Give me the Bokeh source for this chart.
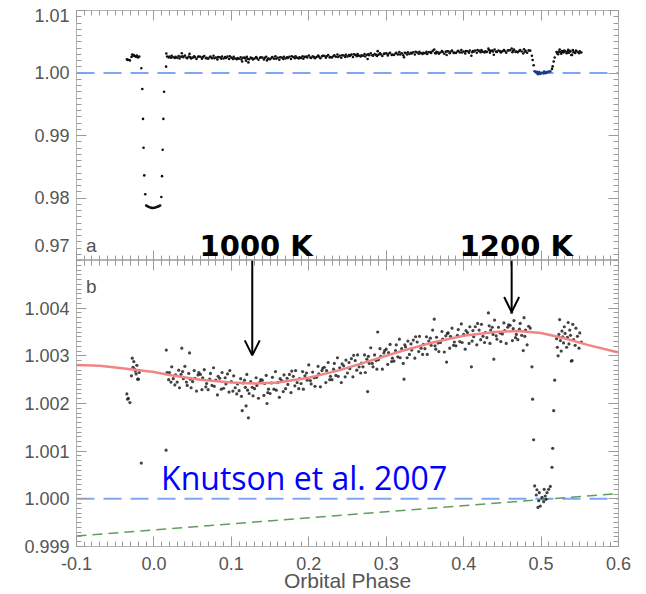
from bokeh.plotting import figure
from bokeh.layouts import column
from bokeh.models import (Range1d, LinearAxis, FixedTicker, PrintfTickFormatter,
                          Arrow, OpenHead, Span, Label)
from bokeh.embed import file_html
from bokeh.resources import INLINE

# ---------------- data ----------------
pre_phase = [-0.035, -0.034, -0.033, -0.031, -0.029, -0.028, -0.027, -0.026, -0.025,
             -0.024, -0.023, -0.022, -0.021, -0.020, -0.019]
pre_flux = [1.00220, 1.00209, 1.00211, 1.00202, 1.00258, 1.00295, 1.00276, 1.00288, 1.00272,
            1.00268, 1.00262, 1.00280, 1.00251, 1.00251, 1.00265]

transit_phase = [-0.0163, -0.0150, -0.0141, -0.0134, -0.0125, -0.0112, -0.0100, -0.0085,
                 -0.0070, -0.0055, -0.0040, -0.0025, -0.0010, 0.0005, 0.0020, 0.0035,
                 0.0050, 0.0065, 0.0080, 0.0096, 0.0105, 0.0113, 0.0122, 0.0131, 0.0157]
transit_flux = [1.00075, 0.99745, 0.99266, 0.98804, 0.98362, 0.98059, 0.97880, 0.97870,
                0.97860, 0.97852, 0.97845, 0.97842, 0.97840, 0.97843, 0.97848, 0.97855,
                0.97862, 0.97870, 0.97880, 0.98016, 0.98350, 0.98772, 0.99266, 0.99700, 1.00102]

main_phase = [
    0.016, 0.017, 0.019,
    0.020, 0.022, 0.023, 0.025, 0.027, 0.028,
    0.030, 0.032, 0.033, 0.035, 0.036, 0.037, 0.038,
    0.040, 0.042, 0.043, 0.045, 0.046, 0.047, 0.048,
    0.050, 0.052, 0.053, 0.055, 0.057, 0.058,
    0.060, 0.062, 0.063, 0.065, 0.067, 0.068,
    0.070, 0.072, 0.073, 0.075, 0.077, 0.078,
    0.080, 0.082, 0.083, 0.085, 0.087, 0.088,
    0.090, 0.092, 0.093, 0.095, 0.097, 0.098,
    0.100, 0.102, 0.103, 0.105, 0.107, 0.108,
    0.110, 0.112, 0.113, 0.114, 0.115, 0.117, 0.118, 0.119,
    0.120, 0.121, 0.122, 0.123, 0.125, 0.127, 0.128,
    0.130, 0.132, 0.133, 0.135, 0.137, 0.138,
    0.140, 0.142, 0.143, 0.145, 0.146, 0.147, 0.148,
    0.150, 0.152, 0.153, 0.155, 0.157, 0.158,
    0.160, 0.162, 0.163, 0.165, 0.167, 0.168,
    0.170, 0.172, 0.173, 0.175, 0.177, 0.178,
    0.180, 0.182, 0.183, 0.185, 0.187, 0.188,
    0.190, 0.192, 0.193, 0.195, 0.197, 0.198,
    0.200, 0.202, 0.203, 0.205, 0.207, 0.208,
    0.210, 0.212, 0.213, 0.215, 0.217, 0.218,
    0.220, 0.222, 0.223, 0.225, 0.227, 0.228,
    0.230, 0.232, 0.233, 0.235, 0.237, 0.238,
    0.240, 0.242, 0.243, 0.245, 0.247, 0.248,
    0.250, 0.252, 0.253, 0.255, 0.257, 0.258,
    0.260, 0.262, 0.263, 0.265, 0.267, 0.268,
    0.270, 0.272, 0.273, 0.275, 0.276, 0.277, 0.278,
    0.280, 0.282, 0.283, 0.285, 0.287, 0.288, 0.289,
    0.290, 0.292, 0.293, 0.295, 0.297, 0.298,
    0.300, 0.302, 0.303, 0.305, 0.307, 0.308,
    0.310, 0.312, 0.313, 0.315, 0.317, 0.318,
    0.320, 0.322, 0.323, 0.324, 0.325, 0.327, 0.328,
    0.330, 0.332, 0.333, 0.335, 0.337, 0.338,
    0.340, 0.342, 0.343, 0.345, 0.347, 0.348,
    0.350, 0.352, 0.353, 0.355, 0.357, 0.358,
    0.360, 0.362, 0.363, 0.364, 0.365, 0.367, 0.368,
    0.370, 0.372, 0.373, 0.375, 0.377, 0.378, 0.379,
    0.380, 0.382, 0.383, 0.385, 0.387, 0.388,
    0.390, 0.392, 0.393, 0.395, 0.397, 0.398,
    0.400, 0.402, 0.403, 0.405, 0.407, 0.408,
    0.410, 0.411, 0.412, 0.413, 0.415, 0.417, 0.418,
    0.420, 0.422, 0.423, 0.425, 0.427, 0.428,
    0.430, 0.432, 0.433, 0.434, 0.435, 0.437, 0.438, 0.439,
    0.440, 0.442, 0.443, 0.445, 0.447, 0.448,
    0.450, 0.452, 0.453, 0.455, 0.457, 0.458,
    0.460, 0.462, 0.463, 0.464, 0.465, 0.467, 0.468,
    0.470, 0.472, 0.473, 0.475, 0.477, 0.478, 0.479,
    0.480, 0.482, 0.484, 0.486,
]
main_flux = [
    1.00312, 1.00265, 1.00250,
    1.00265, 1.00245, 1.00277, 1.00252, 1.00239, 1.00260,
    1.00245, 1.00270, 1.00233, 1.00261, 1.00316, 1.00267, 1.00252,
    1.00278, 1.00245, 1.00238, 1.00263, 1.00306, 1.00251, 1.00233,
    1.00246, 1.00269, 1.00253, 1.00226, 1.00260, 1.00265,
    1.00261, 1.00229, 1.00254, 1.00271, 1.00235, 1.00242,
    1.00229, 1.00251, 1.00263, 1.00238, 1.00275, 1.00236,
    1.00249, 1.00218, 1.00257, 1.00253, 1.00230, 1.00265,
    1.00232, 1.00254, 1.00241, 1.00262, 1.00224, 1.00269,
    1.00246, 1.00226, 1.00258, 1.00233, 1.00220, 1.00241,
    1.00227, 1.00252, 1.00215, 1.00185, 1.00243, 1.00249, 1.00234, 1.00195,
    1.00261, 1.00228, 1.00170, 1.00221, 1.00246, 1.00234, 1.00216,
    1.00231, 1.00254, 1.00238, 1.00211, 1.00245, 1.00250,
    1.00249, 1.00217, 1.00242, 1.00259, 1.00200, 1.00223, 1.00230,
    1.00221, 1.00243, 1.00255, 1.00230, 1.00267, 1.00228,
    1.00244, 1.00213, 1.00252, 1.00248, 1.00225, 1.00260,
    1.00231, 1.00253, 1.00240, 1.00261, 1.00223, 1.00268,
    1.00257, 1.00237, 1.00269, 1.00244, 1.00231, 1.00252,
    1.00242, 1.00267, 1.00230, 1.00258, 1.00264, 1.00249,
    1.00281, 1.00248, 1.00241, 1.00266, 1.00254, 1.00236,
    1.00255, 1.00278, 1.00262, 1.00235, 1.00269, 1.00274,
    1.00276, 1.00244, 1.00269, 1.00286, 1.00250, 1.00257,
    1.00250, 1.00272, 1.00284, 1.00259, 1.00296, 1.00257,
    1.00275, 1.00244, 1.00283, 1.00279, 1.00256, 1.00291,
    1.00264, 1.00286, 1.00273, 1.00294, 1.00256, 1.00301,
    1.00290, 1.00270, 1.00302, 1.00277, 1.00264, 1.00285,
    1.00277, 1.00302, 1.00265, 1.00293, 1.00225, 1.00299, 1.00284,
    1.00317, 1.00284, 1.00277, 1.00302, 1.00290, 1.00272, 1.00350,
    1.00292, 1.00315, 1.00299, 1.00272, 1.00306, 1.00311,
    1.00314, 1.00282, 1.00307, 1.00324, 1.00288, 1.00295,
    1.00289, 1.00311, 1.00323, 1.00298, 1.00335, 1.00296,
    1.00315, 1.00284, 1.00251, 1.00323, 1.00319, 1.00296, 1.00331,
    1.00303, 1.00325, 1.00312, 1.00333, 1.00295, 1.00340,
    1.00329, 1.00309, 1.00341, 1.00316, 1.00303, 1.00324,
    1.00315, 1.00340, 1.00303, 1.00331, 1.00337, 1.00322,
    1.00354, 1.00377, 1.00321, 1.00314, 1.00339, 1.00327, 1.00309,
    1.00328, 1.00351, 1.00335, 1.00308, 1.00342, 1.00287, 1.00347,
    1.00348, 1.00316, 1.00341, 1.00358, 1.00322, 1.00329,
    1.00321, 1.00343, 1.00355, 1.00330, 1.00367, 1.00328,
    1.00345, 1.00314, 1.00353, 1.00349, 1.00326, 1.00361,
    1.00277, 1.00331, 1.00353, 1.00340, 1.00361, 1.00323, 1.00368,
    1.00354, 1.00334, 1.00366, 1.00341, 1.00328, 1.00349,
    1.00338, 1.00390, 1.00363, 1.00326, 1.00354, 1.00360, 1.00345, 1.00293,
    1.00375, 1.00342, 1.00335, 1.00360, 1.00348, 1.00330,
    1.00346, 1.00369, 1.00353, 1.00326, 1.00360, 1.00365,
    1.00364, 1.00391, 1.00332, 1.00357, 1.00374, 1.00338, 1.00345,
    1.00334, 1.00356, 1.00368, 1.00343, 1.00311, 1.00380, 1.00341,
    1.00354, 1.00323, 1.00362, 1.00358,
]

ecl_edge_phase = [0.4882, 0.4891, 0.4904, 0.5141, 0.5150, 0.5163, 0.5176]
ecl_edge_flux = [1.00277, 1.00209, 1.00124, 1.00066, 1.00106, 1.00185, 1.00249]

ecl_bot_phase = [0.4917, 0.4938, 0.4947, 0.4960, 0.4969, 0.4977, 0.4990, 0.5012,
                 0.5034, 0.5040, 0.5054, 0.5064, 0.5077, 0.5098, 0.5119]
ecl_bot_flux = [1.00027, 1.00008, 1.00019, 0.99982, 0.99996, 1.00013, 0.99985, 1.00003,
                0.99994, 1.00020, 1.00006, 0.99999, 1.00013, 1.00020, 1.00026]

post_phase = [0.520, 0.521, 0.522, 0.523, 0.524, 0.525, 0.526, 0.527, 0.528, 0.529,
              0.530, 0.531, 0.533, 0.534, 0.535, 0.536, 0.537, 0.538, 0.539, 0.540,
              0.541, 0.542, 0.544, 0.545, 0.547, 0.549, 0.550, 0.552]
post_flux = [1.00336, 1.00318, 1.00300, 1.00345, 1.00376, 1.00332, 1.00310, 1.00352, 1.00340, 1.00327,
             1.00361, 1.00347, 1.00318, 1.00339, 1.00370, 1.00325, 1.00354, 1.00343, 1.00289, 1.00290,
             1.00366, 1.00334, 1.00322, 1.00358, 1.00341, 1.00316, 1.00348, 1.00329]

curve_phase = [-0.10, -0.07, -0.03, 0.00, 0.02, 0.06, 0.10, 0.13, 0.16, 0.20, 0.24,
               0.28, 0.32, 0.36, 0.40, 0.44, 0.47, 0.50, 0.53, 0.56, 0.60]
curve_flux = [1.00281, 1.00279, 1.00272, 1.00266, 1.00260, 1.00250, 1.00244, 1.00242,
              1.00244, 1.00254, 1.00270, 1.00290, 1.00310, 1.00328, 1.00342, 1.00350,
              1.00352, 1.00348, 1.00337, 1.00323, 1.00307]

green_phase = [-0.1, 0.6]
green_flux = [0.99922, 1.00011]

arrow_phase = [0.127, 0.462]
arrow_tip = [1.00301, 1.00392]
temp_labels = ["1000 K", "1200 K"]
temp_label_phase = [0.0589, 0.3948]

# axis ticks / labels
x_ticks = [-0.1, 0.0, 0.1, 0.2, 0.3, 0.4, 0.5, 0.6]
ya_ticks = [0.97, 0.98, 0.99, 1.00, 1.01]
# the labels at the frame edges are kept inside the panel (as in the original)
ya_edge_overrides = {0.97: "0.97\n", 1.01: "\u00a0\n1.01"}
yb_ticks = [0.999, 1.000, 1.001, 1.002, 1.003, 1.004]

x_minor = [round(-0.1 + i * 0.01, 4) for i in range(71)]
ya_minor = [round(0.97 + i * 0.001, 4) for i in range(41)]
yb_minor = [round(0.999 + i * 0.0001, 5) for i in range(61)]

phase_black = pre_phase + transit_phase + main_phase + ecl_edge_phase + post_phase
flux_black = pre_flux + transit_flux + main_flux + ecl_edge_flux + post_flux

# ---------------- styling ----------------
GRAY = "#555555"
FRAME = "#b4b4b4"
TICK = "#9a9a9a"
BLUE_DASH = "#7fa6f2"


def make_fig(height, y_range, top, bottom):
    p = figure(width=646, height=height, x_range=Range1d(-0.1, 0.6), y_range=y_range,
               output_backend="svg", toolbar_location=None,
               x_axis_location=None, y_axis_location=None,
               min_border_left=76, min_border_right=28,
               min_border_top=top, min_border_bottom=bottom)
    p.grid.visible = False
    p.outline_line_color = FRAME
    p.outline_line_width = 1
    p.background_fill_color = "white"
    p.border_fill_color = "white"
    return p


def style_ticks(ax):
    ax.axis_line_color = None
    ax.major_tick_in = 10
    ax.major_tick_out = 0
    ax.minor_tick_in = 5
    ax.minor_tick_out = 0
    ax.major_tick_line_color = TICK
    ax.minor_tick_line_color = TICK


def labelled_axis(p, side, ticks, minor, fmt):
    ax = LinearAxis(ticker=FixedTicker(ticks=ticks, minor_ticks=minor),
                    formatter=PrintfTickFormatter(format=fmt))
    style_ticks(ax)
    ax.major_label_text_font = "Liberation Sans"
    ax.major_label_text_font_size = "18px"
    ax.major_label_text_color = GRAY
    ax.major_label_standoff = 7
    p.add_layout(ax, side)
    return ax


def bare_axis(p, side, ticks, minor):
    # label-free mirror axes: long ticks and short ticks as two tick-only axes
    for locs, length in ((ticks, 10), (minor, 5)):
        ax = LinearAxis(ticker=FixedTicker(ticks=[], minor_ticks=locs))
        style_ticks(ax)
        ax.minor_tick_in = length
        ax.major_label_standoff = 0
        p.add_layout(ax, side)


# ---------------- panel a ----------------
pa = make_fig(260, Range1d(0.97, 1.01), 10, 0)
ya_axis = labelled_axis(pa, "left", ya_ticks, ya_minor, "%.2f")
ya_axis.major_label_overrides = ya_edge_overrides
ya_axis.major_label_text_line_height = 0.25
bare_axis(pa, "right", ya_ticks, ya_minor)
bare_axis(pa, "above", x_ticks, x_minor)
bare_axis(pa, "below", x_ticks, x_minor)

pa.add_layout(Span(location=1.0, dimension="width", line_color=BLUE_DASH,
                   line_dash="18 9", line_width=2, level="underlay"))
pa.scatter(phase_black, flux_black, size=2.6, fill_color="#111111", line_color=None)
pa.scatter(ecl_bot_phase, ecl_bot_flux, size=2.8, fill_color="#1b3a8c", line_color=None)

for t, xp in zip(temp_labels, temp_label_phase):
    pa.add_layout(Label(x=xp, y=0.97240, text=t, text_font="DejaVu Sans",
                        text_font_style="bold", text_font_size="29px",
                        text_color="black", text_baseline="alphabetic"))
pa.add_layout(Label(x=-0.0877, y=0.97240, text="a", text_font="Liberation Sans",
                    text_font_size="19px", text_color=GRAY, text_baseline="alphabetic"))

# ---------------- panel b ----------------
pb = make_fig(334, Range1d(0.999, 1.005), 0, 47)
labelled_axis(pb, "left", yb_ticks, yb_minor, "%.3f")
bare_axis(pb, "right", yb_ticks, yb_minor)
bare_axis(pb, "above", x_ticks, x_minor)
xb = labelled_axis(pb, "below", x_ticks, x_minor, "%.1f")
xb.major_label_standoff = 10
xb.axis_label = "Orbital Phase"
xb.axis_label_text_font = "Liberation Sans"
xb.axis_label_text_font_size = "21px"
xb.axis_label_text_font_style = "normal"
xb.axis_label_text_color = GRAY
xb.axis_label_standoff = -4

pb.add_layout(Span(location=1.0, dimension="width", line_color=BLUE_DASH,
                   line_dash="18 9", line_width=2, level="underlay"))
pb.line(green_phase, green_flux, line_color="#5f9e5f", line_width=1.5, line_dash="10 6")
pb.scatter(phase_black, flux_black, size=3.2, fill_color="#222222", fill_alpha=0.85, line_color=None)
pb.scatter(ecl_bot_phase, ecl_bot_flux, size=3.2, fill_color="#222222", fill_alpha=0.85, line_color=None)
pb.line(curve_phase, curve_flux, line_color="#f08585", line_width=2.5)

for xp, tip in zip(arrow_phase, arrow_tip):
    pb.add_layout(Arrow(end=OpenHead(size=15, line_width=2, line_color="black"),
                        x_start=xp, y_start=1.005, x_end=xp, y_end=tip,
                        line_width=2, line_color="black"))

pb.add_layout(Label(x=-0.0877, y=1.00445, text="b", text_font="Liberation Sans",
                    text_font_size="19px", text_color=GRAY, text_baseline="alphabetic"))
pb.add_layout(Label(x=0.0092, y=1.000456, text="Knutson et al. 2007", text_font="Open Sans",
                    text_font_size="32px", text_color="#0000ff", text_baseline="alphabetic"))

layout = column(pa, pb, spacing=0)
open("out.html", "w").write(file_html(layout, INLINE))
